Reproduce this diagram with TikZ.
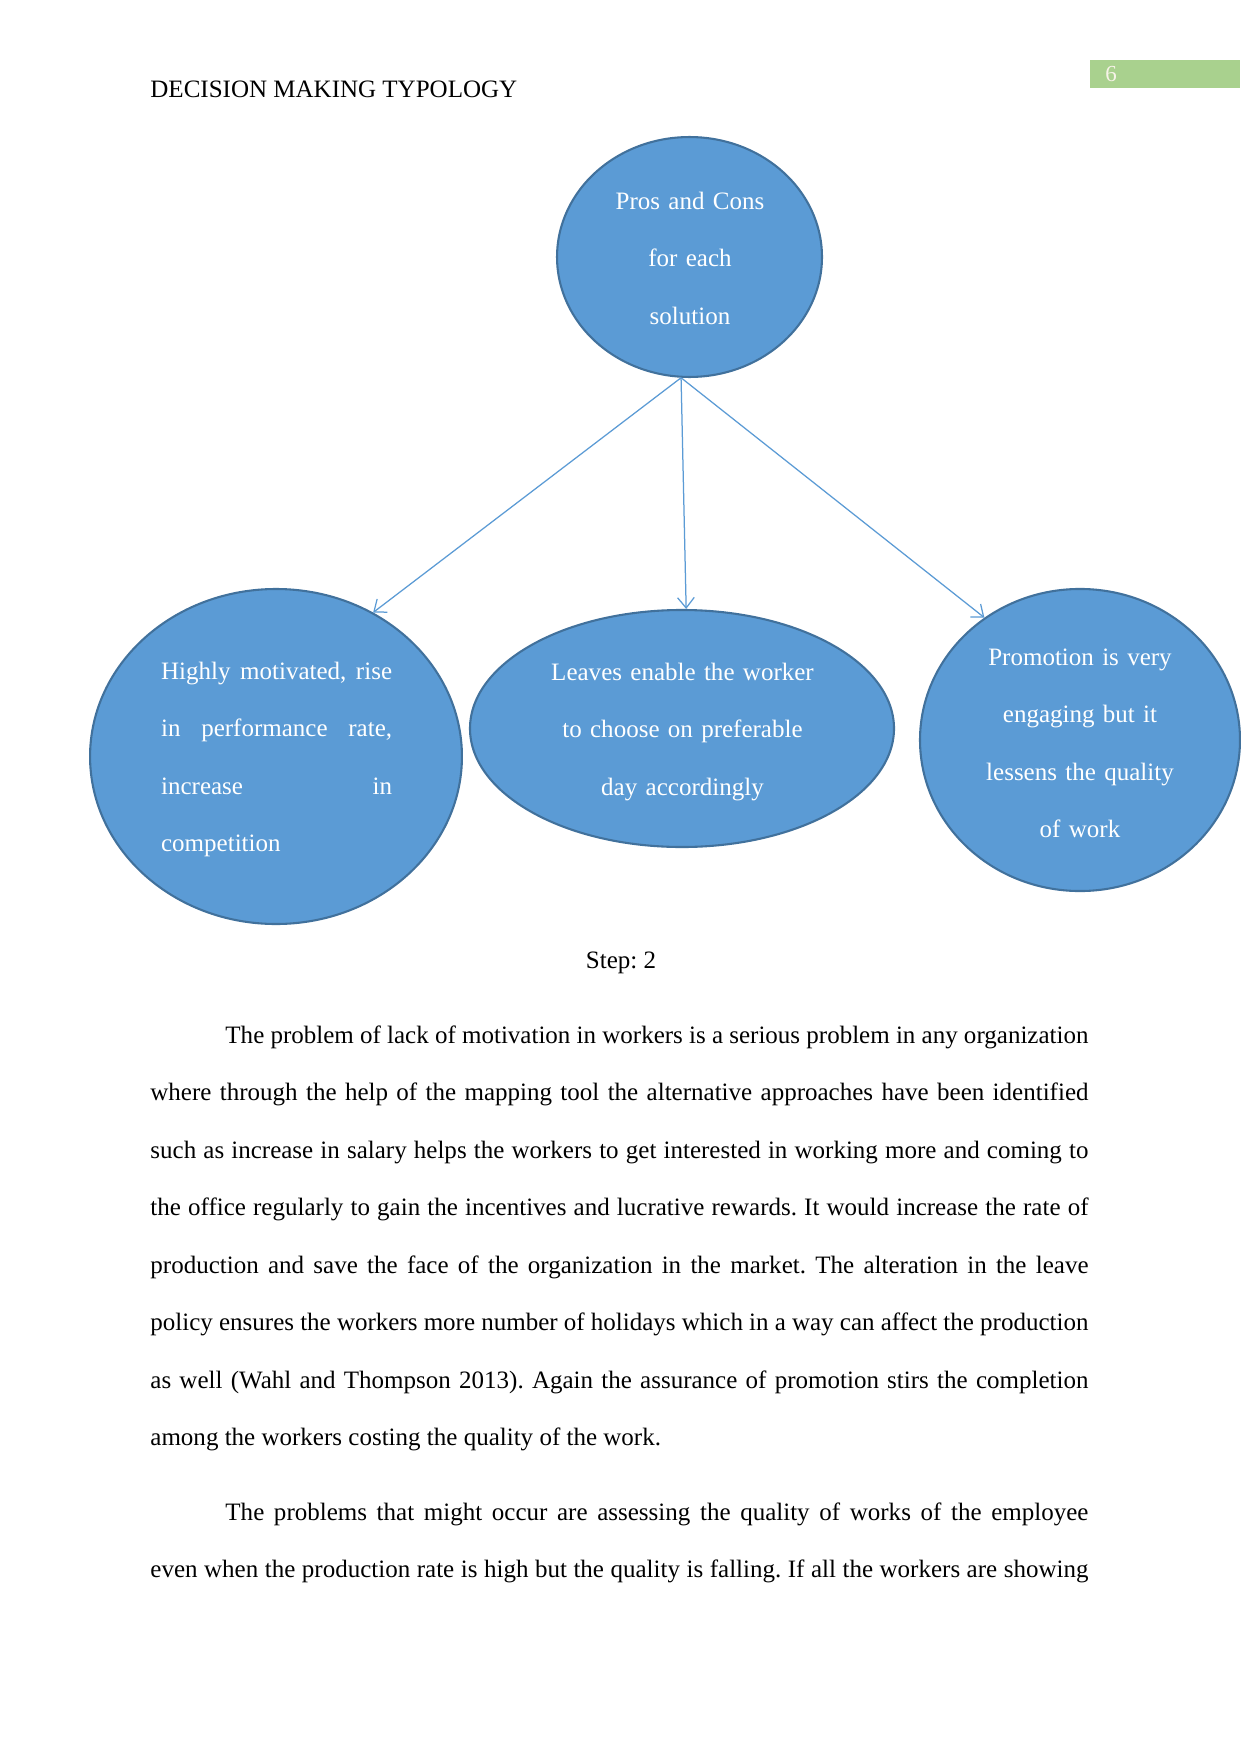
\documentclass[tikz,border=0pt]{standalone}
\usepackage{fontspec}
\setmainfont{Liberation Serif}
\usetikzlibrary{shapes.geometric,arrows.meta}
\definecolor{bubblefill}{HTML}{5B9BD5}
\definecolor{bubbleline}{HTML}{41719C}
\definecolor{pagegreen}{HTML}{A9D18E}
\definecolor{numcol}{HTML}{F7F3E8}
\frenchspacing
\begin{document}
\begin{tikzpicture}[x=0.4797pt,y=-0.4797pt,
  bubble/.style={ellipse,draw=bubbleline,line width=1pt,fill=bubblefill,inner sep=0pt},
  bubbletext/.style={text=white,font=\fontsize{12}{27.6}\selectfont,inner sep=0pt,anchor=base},
  link/.style={draw=bubblefill,line width=0.6pt,-{Straight Barb[length=5pt,width=8pt]}},
  body/.style={font=\fontsize{12}{27.6}\selectfont\frenchspacing,inner sep=0pt,anchor=base west,text width=450pt,align=justify}
]
\useasboundingbox[fill=white] (0,0) rectangle (1241,1754);

% header
\node[font=\fontsize{12}{14}\selectfont,inner sep=0pt,anchor=base west] (header) at (150,97.7) {DECISION MAKING TYPOLOGY};
\fill[pagegreen] (1090,60) rectangle (1240,88);
\node[font=\fontsize{11}{13}\selectfont,text=numcol,inner sep=0pt,anchor=base] (pagenum) at (1111,82) {6};

% bubbles
\node[bubble,minimum width=127.1pt,minimum height=115.1pt] (top) at (689.5,257) {};
\node[bubble,minimum width=178.4pt,minimum height=160.7pt] (left) at (276,756.5) {};
\node[bubble,minimum width=203.4pt,minimum height=113.7pt] (mid) at (682,728.5) {};
\node[bubble,minimum width=153.5pt,minimum height=144.9pt] (right) at (1080,740) {};

\node[bubbletext,text width=110pt,align=center] (toptext) at (690,209) {Pros and Cons\\for each\\solution};
\node[bubbletext,text width=110.8pt,align=justify,anchor=base west] (lefttext) at (160.7,679)
  {\tolerance=10000 Highly motivated, rise\linebreak in performance rate,\linebreak increase in\linebreak competition};
\node[bubbletext,text width=170pt,align=center] (midtext) at (682.5,680) {Leaves enable the worker\\to choose on preferable\\day accordingly};
\node[bubbletext,text width=130pt,align=center] (righttext) at (1080,665) {Promotion is very\\engaging but it\\lessens the quality\\of work};

% connectors
\draw[link] (top.266) -- (left.56);
\draw[link] (top.266) -- (mid.88);
\draw[link] (top.266) -- (right.128);

% caption
\node[font=\fontsize{12}{14}\selectfont,inner sep=0pt,anchor=base] (step) at (621,968) {Step: 2};

% body
\node[body] (para1) at (150,1043) {\tolerance=10000\hspace*{36pt}The problem of lack of motivation in workers is a serious problem in any organization\linebreak
where through the help of the mapping tool the alternative approaches have been identified\linebreak
such as increase in salary helps the workers to get interested in working more and coming to\linebreak
the office regularly to gain the incentives and lucrative rewards. It would increase the rate of\linebreak
production and save the face of the organization in the market. The alteration in the leave\linebreak
policy ensures the workers more number of holidays which in a way can affect the production\linebreak
as well (Wahl and Thompson 2013). Again the assurance of promotion stirs the completion\linebreak
among the workers costing the quality of the work.};
\node[body] (para2) at (150,1520) {\tolerance=10000\hspace*{36pt}The problems that might occur are assessing the quality of works of the employee\linebreak
even when the production rate is high but the quality is falling. If all the workers are showing\linebreak};
\end{tikzpicture}
\end{document}
